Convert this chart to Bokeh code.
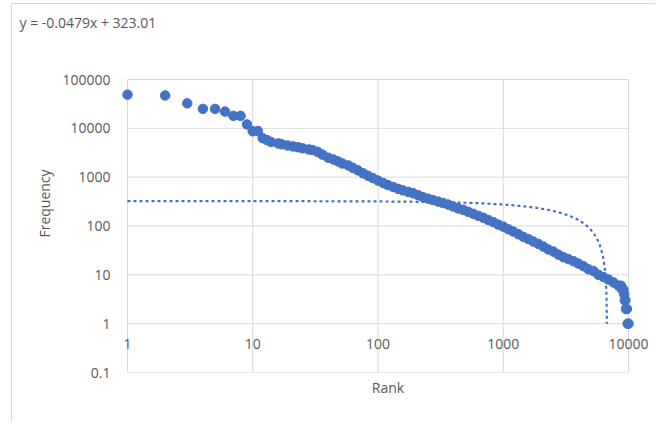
import numpy as np
from bokeh.plotting import figure
from bokeh.models import (FixedTicker, CustomJSTickFormatter, LabelSet,
                          ColumnDataSource, Range1d)
from bokeh.core.properties import value
from bokeh.embed import file_html
from bokeh.resources import INLINE

# ---------------- data ----------------
x_ticks = [1, 10, 100, 1000, 10000]
x_tick_labels = ["1", "10", "100", "1000", "10000"]
y_ticks = [0.1, 1, 10, 100, 1000, 10000, 100000]

rank = [1, 2, 3, 4, 5, 6, 7, 8, 9, 10, 11,
        12, 13, 14, 16, 17, 19, 21, 23, 25, 28, 30, 33, 36, 40, 44, 48, 52, 58,
        63, 69, 76, 83, 91, 100, 110, 120, 132, 145, 158, 174, 191, 209, 229,
        251, 275, 302, 331, 363, 398, 437, 479, 525, 575, 631, 692, 759, 832,
        912, 1000, 1096, 1202, 1318, 1445, 1585, 1738, 1905, 2089, 2291, 2512,
        2754, 3020, 3311, 3631, 3981, 4365, 4786, 5248, 5754, 6310, 6918, 7586,
        8318, 8700, 8900, 9100, 9250, 9350, 9450, 9550, 9700, 9850, 10000]
freq = [49000, 47000, 32500, 25000, 25000, 22000, 18000, 18000, 12000, 8700, 8800,
        6300, 5750, 5250, 4900, 4700, 4450, 4250, 4100, 3900, 3700, 3600, 3300,
        2900, 2500, 2300, 2100, 1900, 1740, 1550, 1380, 1200, 1070, 955, 850,
        760, 690, 630, 575, 537, 500, 468, 427, 389, 363, 339, 316, 295, 275,
        251, 229, 214, 195, 178, 162, 148, 132, 120, 107, 97, 86, 77, 68, 60,
        54, 48, 43, 38, 33, 30, 26, 23, 21, 19, 17, 15, 13, 12, 10, 9, 8, 7,
        6, 6, 5, 5, 4, 3, 3, 2, 2, 1, 1]

trend_slope = -0.0479
trend_intercept = 323.01
equation = "y = -0.0479x + 323.01"

# ---------------- style / geometry ----------------
BLUE = "#4472C4"
GRID = "#d9d9d9"
TEXT = "#595959"
FONT = "Open Sans"

PX_DEC_X = 125.25          # pixels per decade, x
PX_DEC_Y = 293 / 6         # pixels per decade, y
FIG_W, FIG_H = 644, 419
MB_LEFT, MB_TOP, MB_BOTTOM = 107, 30, 51
pad_left = 8                                   # px between frame edge and rank 1
frame_w = FIG_W - MB_LEFT
x_lo = -pad_left / PX_DEC_X
x_hi = x_lo + frame_w / PX_DEC_X
frame_h = FIG_H - MB_TOP - MB_BOTTOM
y_lo = -1
y_hi = y_lo + frame_h / PX_DEC_Y

p = figure(width=FIG_W, height=FIG_H, x_axis_type="log", y_axis_type="log",
           x_range=Range1d(10 ** x_lo, 10 ** x_hi),
           y_range=Range1d(10 ** y_lo, 10 ** y_hi),
           output_backend="svg", toolbar_location=None,
           min_border_left=MB_LEFT, min_border_right=0,
           min_border_top=MB_TOP, min_border_bottom=MB_BOTTOM)
p.styles = {"margin-top": "3px", "margin-left": "11px",
            "border-top": "1px solid #d9d9d9", "border-left": "1px solid #d9d9d9"}
p.outline_line_color = None
p.grid.visible = False

# equation as the chart's title text
p.title.text = equation
p.title.align = "left"
p.title.vertical_align = "top"
p.title.offset = -100
p.title.standoff = 2
p.title.text_font = FONT
p.title.text_font_size = "14px"
p.title.text_font_style = "normal"
p.title.text_color = TEXT

# gridlines (plot area 1..10000 x 0.1..100000)
p.segment(x0=[x_ticks[0]] * len(y_ticks), x1=[x_ticks[-1]] * len(y_ticks),
          y0=y_ticks, y1=y_ticks, line_color=GRID, line_width=1)
p.segment(x0=x_ticks, x1=x_ticks, y0=[y_ticks[0]] * len(x_ticks),
          y1=[y_ticks[-1]] * len(x_ticks), line_color=GRID, line_width=1)

# y axis
ya = p.yaxis[0]
ya.ticker = FixedTicker(ticks=y_ticks, minor_ticks=[])
ya.formatter = CustomJSTickFormatter(code="return tick.toString();")
ya.major_tick_out = 0
ya.major_tick_in = 0
ya.minor_tick_out = 0
ya.minor_tick_in = 0
ya.axis_line_color = None
ya.major_label_standoff = 9
ya.major_label_text_font = FONT
ya.major_label_text_font_size = "14px"
ya.major_label_text_color = TEXT
ya.axis_label = "Frequency"
ya.axis_label_text_font = FONT
ya.axis_label_text_font_size = "14px"
ya.axis_label_text_font_style = "normal"
ya.axis_label_text_color = TEXT
ya.axis_label_standoff = 5

# x axis (label only; tick labels sit at y = 1 like Excel)
xa = p.xaxis[0]
xa.ticker = FixedTicker(ticks=[], minor_ticks=[])
xa.major_tick_out = 0
xa.major_tick_in = 0
xa.minor_tick_out = 0
xa.axis_line_color = None
xa.axis_label = "Rank"
xa.axis_label_text_font = FONT
xa.axis_label_text_font_size = "14px"
xa.axis_label_text_font_style = "normal"
xa.axis_label_text_color = TEXT
xa.axis_label_standoff = 5

label_y = 1 * 10 ** (-20 / PX_DEC_Y)
src = ColumnDataSource(dict(x=x_ticks, y=[label_y] * len(x_ticks), t=x_tick_labels))
p.add_layout(LabelSet(x="x", y="y", text="t", source=src, text_align="center",
                      text_baseline="middle", text_font=value(FONT),
                      text_font_size=value("14px"), text_color=TEXT))

# data points
p.scatter(rank, freq, size=9.5, fill_color=BLUE, line_color=BLUE)

# linear trendline (drawn on log axes)
x_end = (trend_intercept - 1) / -trend_slope
t = np.linspace(0, 1, 800)
tx = 10 ** (np.log10(x_end) * (1 - (1 - t) ** 4))
ty = trend_slope * tx + trend_intercept
p.line(tx, ty, line_color=BLUE, line_width=2.2, line_dash="3 3")

open("out.html", "w").write(file_html(p, INLINE))
